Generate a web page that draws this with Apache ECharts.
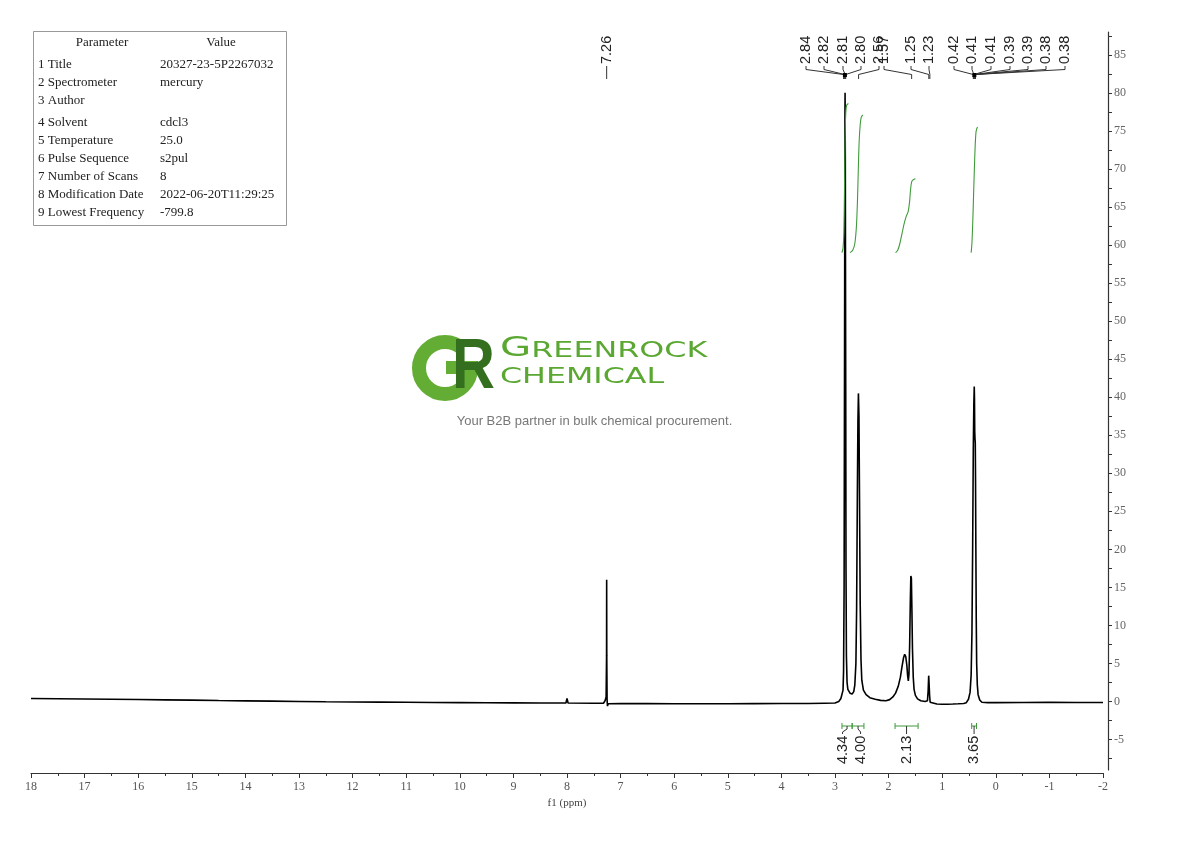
<!DOCTYPE html>
<html><head><meta charset="utf-8">
<script src="https://cdn.jsdelivr.net/npm/echarts@6/dist/echarts.min.js"></script>
<style>html,body{margin:0;padding:0;background:#fff}#c{width:1190px;height:841px}</style>
</head><body><div id="c"></div>
<script>
// ---------- DATA ----------
const yLabelValues = [-5,0,5,10,15,20,25,30,35,40,45,50,55,60,65,70,75,80,85];
const yTickValues = [-7.5,-5,-2.5,0,2.5,5,7.5,10,12.5,15,17.5,20,22.5,25,27.5,30,32.5,35,37.5,40,42.5,45,47.5,50,52.5,55,57.5,60,62.5,65,67.5,70,72.5,75,77.5,80,82.5,85,87.5];

// spectrum [ppm, intensity]
const baselineLeft = [[18,0.40],[17.5,0.37],[17,0.34],[16.5,0.30],[16,0.26],[15.5,0.22],[15,0.18],[14.5,0.13],[14,0.09],[13.5,0.05],[13,0.01],[12.5,-0.03],[12,-0.06],[11.5,-0.08],[11,-0.10],[10.5,-0.12],[10,-0.14],[9.5,-0.16],[9,-0.18],[8.5,-0.20],[8.02,-0.20],[8.0,0.4],[7.98,-0.2],[7.5,-0.22],[7.32,-0.22]];
const solventPeak = [[7.29,0.1],[7.27,0.6],[7.262,6],[7.26,16.0],[7.258,6],[7.252,0.2],[7.245,-0.6],[7.23,-0.3]];
const baselineMid = [[7.0,-0.26],[6.5,-0.28],[6,-0.3],[5.5,-0.3],[5,-0.29],[4.5,-0.27],[4,-0.26],[3.5,-0.25],[3.2,-0.22],[3.0,-0.2],[2.93,0.0]];
const cluster28 = [[2.89,0.4],[2.87,0.6],[2.85,1.5],[2.84,4],[2.83,15],[2.822,45],[2.815,76],[2.812,80],[2.808,72],[2.80,42],[2.795,18],[2.787,6],[2.775,2.5],[2.76,1.6],[2.72,1.1],[2.68,1.0],[2.65,1.3],[2.63,2.2],[2.61,5],[2.597,12],[2.583,27],[2.572,37],[2.563,40.5],[2.553,37.5],[2.543,27],[2.53,13],[2.515,5.5],[2.50,2.8],[2.47,1.5],[2.42,0.9],[2.35,0.5],[2.25,0.3],[2.15,0.15],[2.05,0.1]];
const cluster16 = [[1.98,0.25],[1.92,0.6],[1.87,1.1],[1.82,2.0],[1.78,3.2],[1.75,4.6],[1.72,5.8],[1.70,6.2],[1.68,5.9],[1.66,4.8],[1.645,3.4],[1.632,2.7],[1.62,3.6],[1.607,7.5],[1.595,13],[1.585,16.5],[1.575,16.2],[1.565,12],[1.555,7],[1.54,3.2],[1.525,1.6],[1.50,0.8],[1.46,0.35],[1.40,0.1],[1.32,0.0],[1.275,0.1],[1.262,1.4],[1.252,3.4],[1.245,2.4],[1.235,0.8],[1.225,-0.1],[1.20,-0.3]];
const baselineRight1 = [[1.1,-0.32],[1.0,-0.35],[0.9,-0.35],[0.8,-0.33],[0.7,-0.3],[0.6,-0.26],[0.55,-0.15]];
const cluster04 = [[0.51,0.3],[0.48,1.2],[0.46,3.5],[0.445,9],[0.432,20],[0.420,33],[0.410,39],[0.402,41.4],[0.398,40],[0.393,35.5],[0.388,34.5],[0.383,34],[0.378,29],[0.372,20],[0.365,11],[0.357,5],[0.345,2.2],[0.33,0.9],[0.30,0.2],[0.26,-0.1]];
const baselineRight2 = [[0.15,-0.15],[0,-0.15],[-0.5,-0.12],[-1,-0.1],[-1.5,-0.12],[-2,-0.12]];

// integral curves [ppm, value on y scale]
const integral1 = [[2.87,59.0],[2.85,59.6],[2.835,61.5],[2.825,66],[2.818,70.5],[2.812,73.8],[2.805,76.2],[2.795,77.8],[2.78,78.4],[2.75,78.6]];
const integral2 = [[2.72,59.0],[2.67,59.3],[2.63,60.2],[2.60,62.5],[2.58,66],[2.565,70],[2.55,73.5],[2.53,75.8],[2.51,76.8],[2.48,77.1]];
const integral3 = [[1.87,59.0],[1.83,59.3],[1.79,60.2],[1.75,61.5],[1.71,62.8],[1.67,63.8],[1.635,64.4],[1.61,65.6],[1.59,67.3],[1.57,68.3],[1.54,68.6],[1.50,68.7]];
const integral4 = [[0.46,59.0],[0.445,60.3],[0.43,63],[0.415,66.5],[0.40,70],[0.385,73],[0.37,74.8],[0.355,75.3],[0.34,75.5]];

// peak labels
const soloPeakLabel = '7.26';
const soloPeakShift = 7.26;
const peakLabels = ['2.84','2.82','2.81','2.80','2.56','1.57','1.25','1.23','0.42','0.41','0.41','0.39','0.39','0.38','0.38'];
const peakShifts = [2.84,2.82,2.81,2.80,2.56,1.57,1.25,1.23,0.42,0.41,0.41,0.39,0.39,0.38,0.38];
const peakGroupCenters = [2.815, 0.40];

// integrations
const integralLabels = ['4.34','4.00','2.13','3.65'];
const integralFrom = [2.87, 2.68, 1.88, 0.45];
const integralTo = [2.68, 2.46, 1.45, 0.36];

// parameter table
const paramNames = ['1 Title','2 Spectrometer','3 Author','4 Solvent','5 Temperature','6 Pulse Sequence','7 Number of Scans','8 Modification Date','9 Lowest Frequency'];
const paramValues = ['20327-23-5P2267032','mercury','','cdcl3','25.0','s2pul','8','2022-06-20T11:29:25','-799.8'];

// ---------- LAYOUT ----------
const peakLabelX = [806,824,843,861,879,884,911,929,954,972,991,1010,1028,1046,1065];
const integralLabelShift = [-4.5, 2.5, 0, 0];
const tableRowY = [65,83,101,123,141,159,177,195,213];
const GREEN = '#3f9a3a';

const spectrum = [].concat(baselineLeft, solventPeak, baselineMid, cluster28, cluster16, baselineRight1, cluster04, baselineRight2);

const chart = echarts.init(document.getElementById('c'), null, {renderer:'canvas'});
const serif = 'Liberation Serif';
const integralSeries = [integral1, integral2, integral3, integral4].map(d => ({
  type:'line', data:d, showSymbol:false, smooth:0.3, silent:true, animation:false,
  lineStyle:{color:GREEN, width:1.1}, z:3
}));

chart.setOption({
  animation:false,
  backgroundColor:'#fff',
  grid:{left:31, right:87, top:32, bottom:71},
  xAxis:{
    type:'value', min:-2, max:18, interval:1, inverse:true, offset:3,
    axisLine:{show:true, onZero:false, lineStyle:{color:'#333', width:1.2}},
    axisTick:{show:true, length:5, lineStyle:{color:'#333'}},
    minorTick:{show:true, splitNumber:2, length:3, lineStyle:{color:'#333'}},
    axisLabel:{fontFamily:serif, fontSize:12, color:'#555', margin:8},
    splitLine:{show:false},
    name:'f1 (ppm)', nameLocation:'middle', nameGap:25,
    nameTextStyle:{fontFamily:serif, fontSize:11, color:'#444'}
  },
  yAxis:{
    type:'value', min:-9, max:88, position:'right', offset:5,
    axisLine:{show:true, onZero:false, lineStyle:{color:'#333', width:1.2}},
    axisTick:{show:true, length:4, customValues:yTickValues, lineStyle:{color:'#333'}},
    axisLabel:{customValues:yLabelValues, fontFamily:serif, fontSize:12, color:'#666', margin:6},
    splitLine:{show:false}
  },
  series:[{
    type:'line', data:spectrum, showSymbol:false, silent:true, animation:false,
    lineStyle:{color:'#000', width:1.6}, z:2
  }].concat(integralSeries)
});

const P = (x,y) => chart.convertToPixel({xAxisIndex:0, yAxisIndex:0}, [x,y]);
const g = [];
const lineStyleDark = {stroke:'#333', lineWidth:1};
const labelFont = '14.5px "Liberation Sans"';

// solo peak label
{
  const x = P(soloPeakShift, 0)[0];
  g.push({type:'text', x:x, y:64, rotation:Math.PI/2, style:{text:soloPeakLabel, font:labelFont, fill:'#222', align:'left', verticalAlign:'middle'}});
  g.push({type:'line', shape:{x1:x, y1:66, x2:x, y2:79}, style:lineStyleDark});
}
// multiplet labels
peakLabels.forEach((t,i) => {
  const lx = peakLabelX[i];
  const px = P(peakShifts[i], 0)[0];
  g.push({type:'text', x:lx, y:64, rotation:Math.PI/2, style:{text:t, font:labelFont, fill:'#222', align:'left', verticalAlign:'middle'}});
  g.push({type:'polyline', shape:{points:[[lx,66],[lx,69.5],[px,74.5],[px,79]]}, style:{stroke:'#333', lineWidth:1, fill:null}});
});
peakGroupCenters.forEach(c => {
  const x = P(c,0)[0];
  g.push({type:'rect', shape:{x:x-2, y:73, width:4, height:4}, style:{fill:'#000'}});
});

// integration brackets
integralLabels.forEach((t,i) => {
  const x1 = P(integralFrom[i],0)[0], x2 = P(integralTo[i],0)[0];
  const by = 726, cx = (x1+x2)/2, lx = cx + integralLabelShift[i];
  g.push({type:'line', shape:{x1:x1, y1:by, x2:x2, y2:by}, style:{stroke:GREEN, lineWidth:1}});
  g.push({type:'line', shape:{x1:x1, y1:by-3, x2:x1, y2:by+3}, style:{stroke:GREEN, lineWidth:1}});
  g.push({type:'line', shape:{x1:x2, y1:by-3, x2:x2, y2:by+3}, style:{stroke:GREEN, lineWidth:1}});
  g.push({type:'polyline', shape:{points:[[cx,by],[cx,by+3],[lx,by+6],[lx,by+8]]}, style:{stroke:'#333', lineWidth:1, fill:null}});
  g.push({type:'text', x:lx, y:764, rotation:Math.PI/2, style:{text:t, font:labelFont, fill:'#222', align:'left', verticalAlign:'middle'}});
});

// parameter table
g.push({type:'rect', shape:{x:33.5, y:31.5, width:253, height:194}, style:{fill:'#fff', stroke:'#999', lineWidth:1}, z:10});
g.push({type:'text', x:102, y:43, z:11, style:{text:'Parameter', font:'13px "Liberation Serif"', fill:'#222', align:'center', verticalAlign:'middle'}});
g.push({type:'text', x:221, y:43, z:11, style:{text:'Value', font:'13px "Liberation Serif"', fill:'#222', align:'center', verticalAlign:'middle'}});
paramNames.forEach((n,i) => {
  g.push({type:'text', x:38, y:tableRowY[i], z:11, style:{text:n, font:'13px "Liberation Serif"', fill:'#222', align:'left', verticalAlign:'middle'}});
  g.push({type:'text', x:160, y:tableRowY[i], z:11, style:{text:paramValues[i], font:'13px "Liberation Serif"', fill:'#222', align:'left', verticalAlign:'middle'}});
});

// logo watermark
g.push({type:'arc', shape:{cx:445, cy:368, r:26, startAngle:0, endAngle:5.45, clockwise:true}, style:{stroke:'#63ad35', lineWidth:14, fill:null}, z:1});
g.push({type:'rect', shape:{x:446, y:361, width:32, height:13}, style:{fill:'#63ad35'}, z:1});
g.push({type:'text', x:452, y:369, scaleX:0.85, z:1, style:{text:'R', font:'bold 70px "Liberation Sans"', fill:'#346f1f', align:'left', verticalAlign:'middle'}});
g.push({type:'text', x:500, y:362, scaleX:1.55, z:1, style:{text:'{a|G}{b|REENROCK}', align:'left', verticalAlign:'bottom',
  rich:{a:{fontSize:26, fontFamily:'DejaVu Sans', fill:'#5aa832', verticalAlign:'bottom'}, b:{fontSize:20.5, fontFamily:'DejaVu Sans', fill:'#5aa832', verticalAlign:'bottom'}}}});
g.push({type:'text', x:500, y:377, scaleX:1.44, z:1, style:{text:'CHEMICAL', font:'22px "DejaVu Sans"', fill:'#5aa832', align:'left', verticalAlign:'middle'}});
g.push({type:'text', x:594.5, y:421, z:1, style:{text:'Your B2B partner in bulk chemical procurement.', font:'13px "Liberation Sans"', fill:'#777', align:'center', verticalAlign:'middle'}});

chart.setOption({graphic:{elements:g}});
</script>
</body></html>
